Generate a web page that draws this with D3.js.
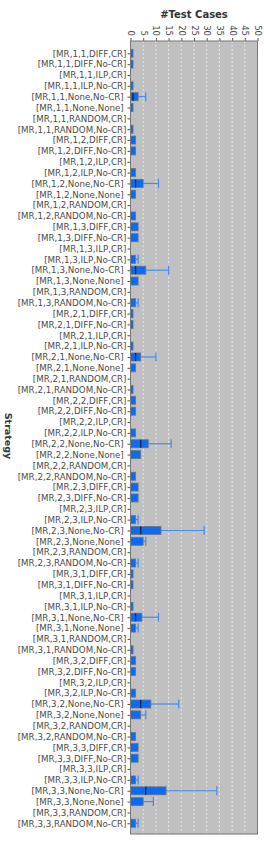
<!DOCTYPE html>
<meta charset="utf-8">
<head>
<title>test cases per strategy</title>
<script src="https://cdn.jsdelivr.net/npm/d3@7"></script>
<style>
  body { margin: 0; background: #fff; }
  text { font-family: "DejaVu Sans", sans-serif; }
</style>
</head>
<body>
<div id="chart"></div>
<script>

const width = 264;
const height = 844;

// MR,i,j combos and the 8 strategies under each
const combos = ["1,1", "1,2", "1,3", "2,1", "2,2", "2,3", "3,1", "3,2", "3,3"];
const strategies = ["DIFF,CR", "DIFF,No-CR", "ILP,CR", "ILP,No-CR",
                    "None,No-CR", "None,None", "RANDOM,CR", "RANDOM,No-CR"];

// box stats, one row per combo (8 strategies each)
// lower quartile / lower whisker are 0 everywhere
const q3 = [
  [1, 1, 0, 1, 3, 1, 0, 1],
  [2, 2, 0, 2, 5, 2, 0, 2],
  [3, 3, 0, 2, 6, 3, 0, 2],
  [1, 1, 0, 1, 4, 2, 0, 1],
  [2, 2, 0, 2, 7, 4, 0, 2],
  [3, 3, 0, 2, 12, 5, 0, 2],
  [1, 1, 0, 1, 4.5, 2, 0, 1],
  [2, 2, 0, 2, 8, 4, 0, 2],
  [3, 3, 0, 2, 14, 5, 0, 2]
];
const medians = [
  [0, 0, 0, 0, 1, 0, 0, 0],
  [0, 0, 0, 0, 2, 0, 0, 0],
  [0, 0, 0, 0, 2, 0, 0, 0],
  [0, 0, 0, 0, 2, 0, 0, 0],
  [0, 0, 0, 0, 4, 0, 0, 0],
  [0, 0, 0, 0, 4, 0, 0, 0],
  [0, 0, 0, 0, 2, 0, 0, 0],
  [0, 0, 0, 0, 4, 0, 0, 0],
  [0, 0, 0, 0, 6, 0, 0, 0]
];
const whiskerHi = [
  [1, 1, 0, 1, 6, 1, 0, 1],
  [2, 2, 0, 2, 11, 2, 0, 2],
  [3, 3, 0, 3, 15, 3, 0, 3],
  [1, 1, 0, 1, 10, 2, 0, 1],
  [2, 2, 0, 2, 16, 4, 0, 2],
  [3, 3, 0, 3, 29, 6, 0, 3],
  [1, 1, 0, 1, 11, 3, 0, 1],
  [2, 2, 0, 2, 19, 6, 0, 2],
  [3, 3, 0, 3, 34, 9, 0, 3]
];
const xTicks = [0, 5, 10, 15, 20, 25, 30, 35, 40, 45, 50];

const rows = [];
combos.forEach((c, i) => {
  strategies.forEach((s, j) => {
    // "None" labels carry a trailing space in the original
    const label = `[MR,${c},${s}]` + (s.startsWith("None") ? " " : "");
    rows.push({
      key: `${c}|${s}`, label,
      q1: 0, lo: 0,
      med: medians[i][j], q3: q3[i][j], hi: whiskerHi[i][j]
    });
  });
});

const plot = { left: 130.5, right: 257.5, top: 41, bottom: 834 };

const x = d3.scaleLinear().domain([0, 50]).range([plot.left, plot.right]);
const y = d3.scalePoint()
  .domain(rows.map(d => d.key))
  .range([plot.top + 12.3, plot.bottom - 10.7]);
const boxH = 8;

const svg = d3.select("#chart")
  .append("svg")
  .attr("width", width)
  .attr("height", height)
  .attr("viewBox", [0, 0, width, height]);

// plot background
svg.append("rect")
  .attr("x", plot.left).attr("y", plot.top)
  .attr("width", plot.right - plot.left).attr("height", plot.bottom - plot.top)
  .attr("fill", "#c0c0c0");

// dashed grid
svg.append("g")
  .selectAll("line")
  .data(xTicks.slice(1, -1))
  .join("line")
    .attr("x1", d => x(d)).attr("x2", d => x(d))
    .attr("y1", plot.top).attr("y2", plot.bottom)
    .attr("stroke", "#ececec")
    .attr("stroke-width", 0.9)
    .attr("stroke-dasharray", "2,2");

// top axis
const xAxis = svg.append("g")
  .attr("transform", `translate(0,${plot.top})`)
  .call(d3.axisTop(x).tickValues(xTicks).tickSize(3).tickPadding(2));
xAxis.select(".domain").remove();
xAxis.selectAll("line").attr("stroke", "#555");
xAxis.selectAll("text")
  .attr("fill", "#444")
  .style("font-size", "8.5px")
  .attr("text-anchor", "end")
  .attr("transform", "rotate(90)")
  .attr("x", -5).attr("y", 0).attr("dy", "0.35em");

// left axis
const yAxis = svg.append("g")
  .attr("transform", `translate(${plot.left},0)`)
  .call(d3.axisLeft(y).tickSize(3).tickPadding(1).tickFormat(k => rows.find(r => r.key === k).label));
yAxis.select(".domain").remove();
yAxis.selectAll("line").attr("stroke", "#555");
yAxis.selectAll("text")
  .attr("fill", "#4a4a4a")
  .style("font-size", "8.7px")
  .style("white-space", "pre");

// boxes
const box = svg.append("g")
  .selectAll("g")
  .data(rows)
  .join("g")
  .attr("transform", d => `translate(0,${y(d.key)})`);

box.filter(d => d.hi > d.q3).append("line")
  .attr("x1", d => x(d.q3)).attr("x2", d => x(d.hi))
  .attr("y1", 0).attr("y2", 0)
  .attr("stroke", "#3f8cf2").attr("stroke-width", 1.2);

box.filter(d => d.hi > d.q3).append("line")
  .attr("x1", d => x(d.hi)).attr("x2", d => x(d.hi))
  .attr("y1", -boxH / 2 - 0.5).attr("y2", boxH / 2 + 0.5)
  .attr("stroke", "#3f8cf2").attr("stroke-width", 1.2);

box.append("rect")
  .attr("x", d => x(d.q1))
  .attr("y", -boxH / 2)
  .attr("width", d => x(d.q3) - x(d.q1))
  .attr("height", boxH)
  .attr("fill", "#0b6cf3")
  .attr("stroke", "#707070")
  .attr("stroke-opacity", 0.8)
  .attr("stroke-width", 0.9);

box.filter(d => d.med > d.q1).append("line")
  .attr("x1", d => x(d.med)).attr("x2", d => x(d.med))
  .attr("y1", -boxH / 2).attr("y2", boxH / 2)
  .attr("stroke", "#0d2348").attr("stroke-width", 1.3);

// frame
svg.append("rect")
  .attr("x", plot.left).attr("y", plot.top)
  .attr("width", plot.right - plot.left).attr("height", plot.bottom - plot.top)
  .attr("fill", "none")
  .attr("stroke", "#777")
  .attr("stroke-width", 1);

// titles
svg.append("text")
  .attr("x", (plot.left + plot.right) / 2)
  .attr("y", 18)
  .attr("text-anchor", "middle")
  .attr("fill", "#333")
  .style("font-size", "10px")
  .style("font-weight", "bold")
  .text("#Test Cases");

svg.append("text")
  .attr("transform", `translate(5,436) rotate(90)`)
  .attr("text-anchor", "middle")
  .attr("fill", "#333")
  .style("font-size", "9.5px")
  .style("font-weight", "bold")
  .text("Strategy");

</script>
</body>
